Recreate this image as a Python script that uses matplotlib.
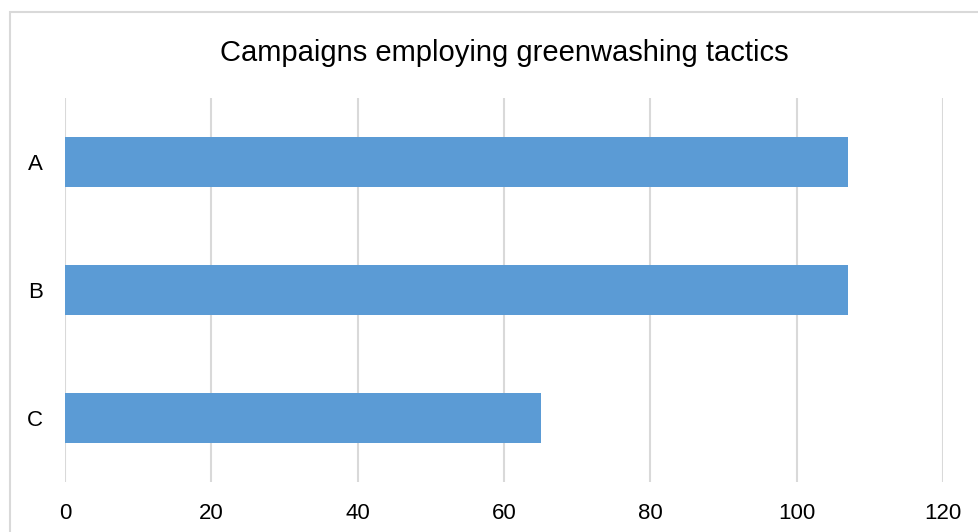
import numpy as np
import matplotlib
matplotlib.use("Agg")
import matplotlib.pyplot as plt
from matplotlib.patches import Rectangle

# campaign counts per category
categories = ["A", "B", "C"]
campaigns = [107, 107, 65]
x_ticks = [0, 20, 40, 60, 80, 100, 120]

plt.rcParams['font.family'] = ['Liberation Sans', 'DejaVu Sans']

W, H = 979, 532
fig = plt.figure(figsize=(W / 100, H / 100), dpi=100)
ax = fig.add_axes([65 / W, 1 - 482 / H, (943 - 65) / W, (482 - 98) / H])

ypos = np.arange(len(categories))
ax.barh(ypos, campaigns, height=0.39, color="#5b9bd5", zorder=3)

ax.set_xlim(0, 120)
ax.set_ylim(len(categories) - 0.5, -0.5)
ax.set_xticks(x_ticks)
ax.set_yticks(ypos)
ax.set_yticklabels(categories)
ax.tick_params(axis="both", length=0, labelsize=16, colors="#000000")
ax.tick_params(axis="x", pad=15)
ax.tick_params(axis="y", pad=16)
ax.xaxis.grid(True, color="#d9d9d9", linewidth=1.5, zorder=0)
for s in ax.spines.values():
    s.set_visible(False)

fig.text((65 + 943) / 2 / W, 1 - 53 / H, "Campaigns employing greenwashing tactics",
         ha="center", va="center", fontsize=21)

# chart frame
fig.add_artist(Rectangle((9.5 / W, -0.2), 1.2, 1.2 - 11.5 / H, transform=fig.transFigure,
                         fill=False, edgecolor="#d9d9d9", linewidth=1.5))

fig.savefig("out.png", dpi=100)
